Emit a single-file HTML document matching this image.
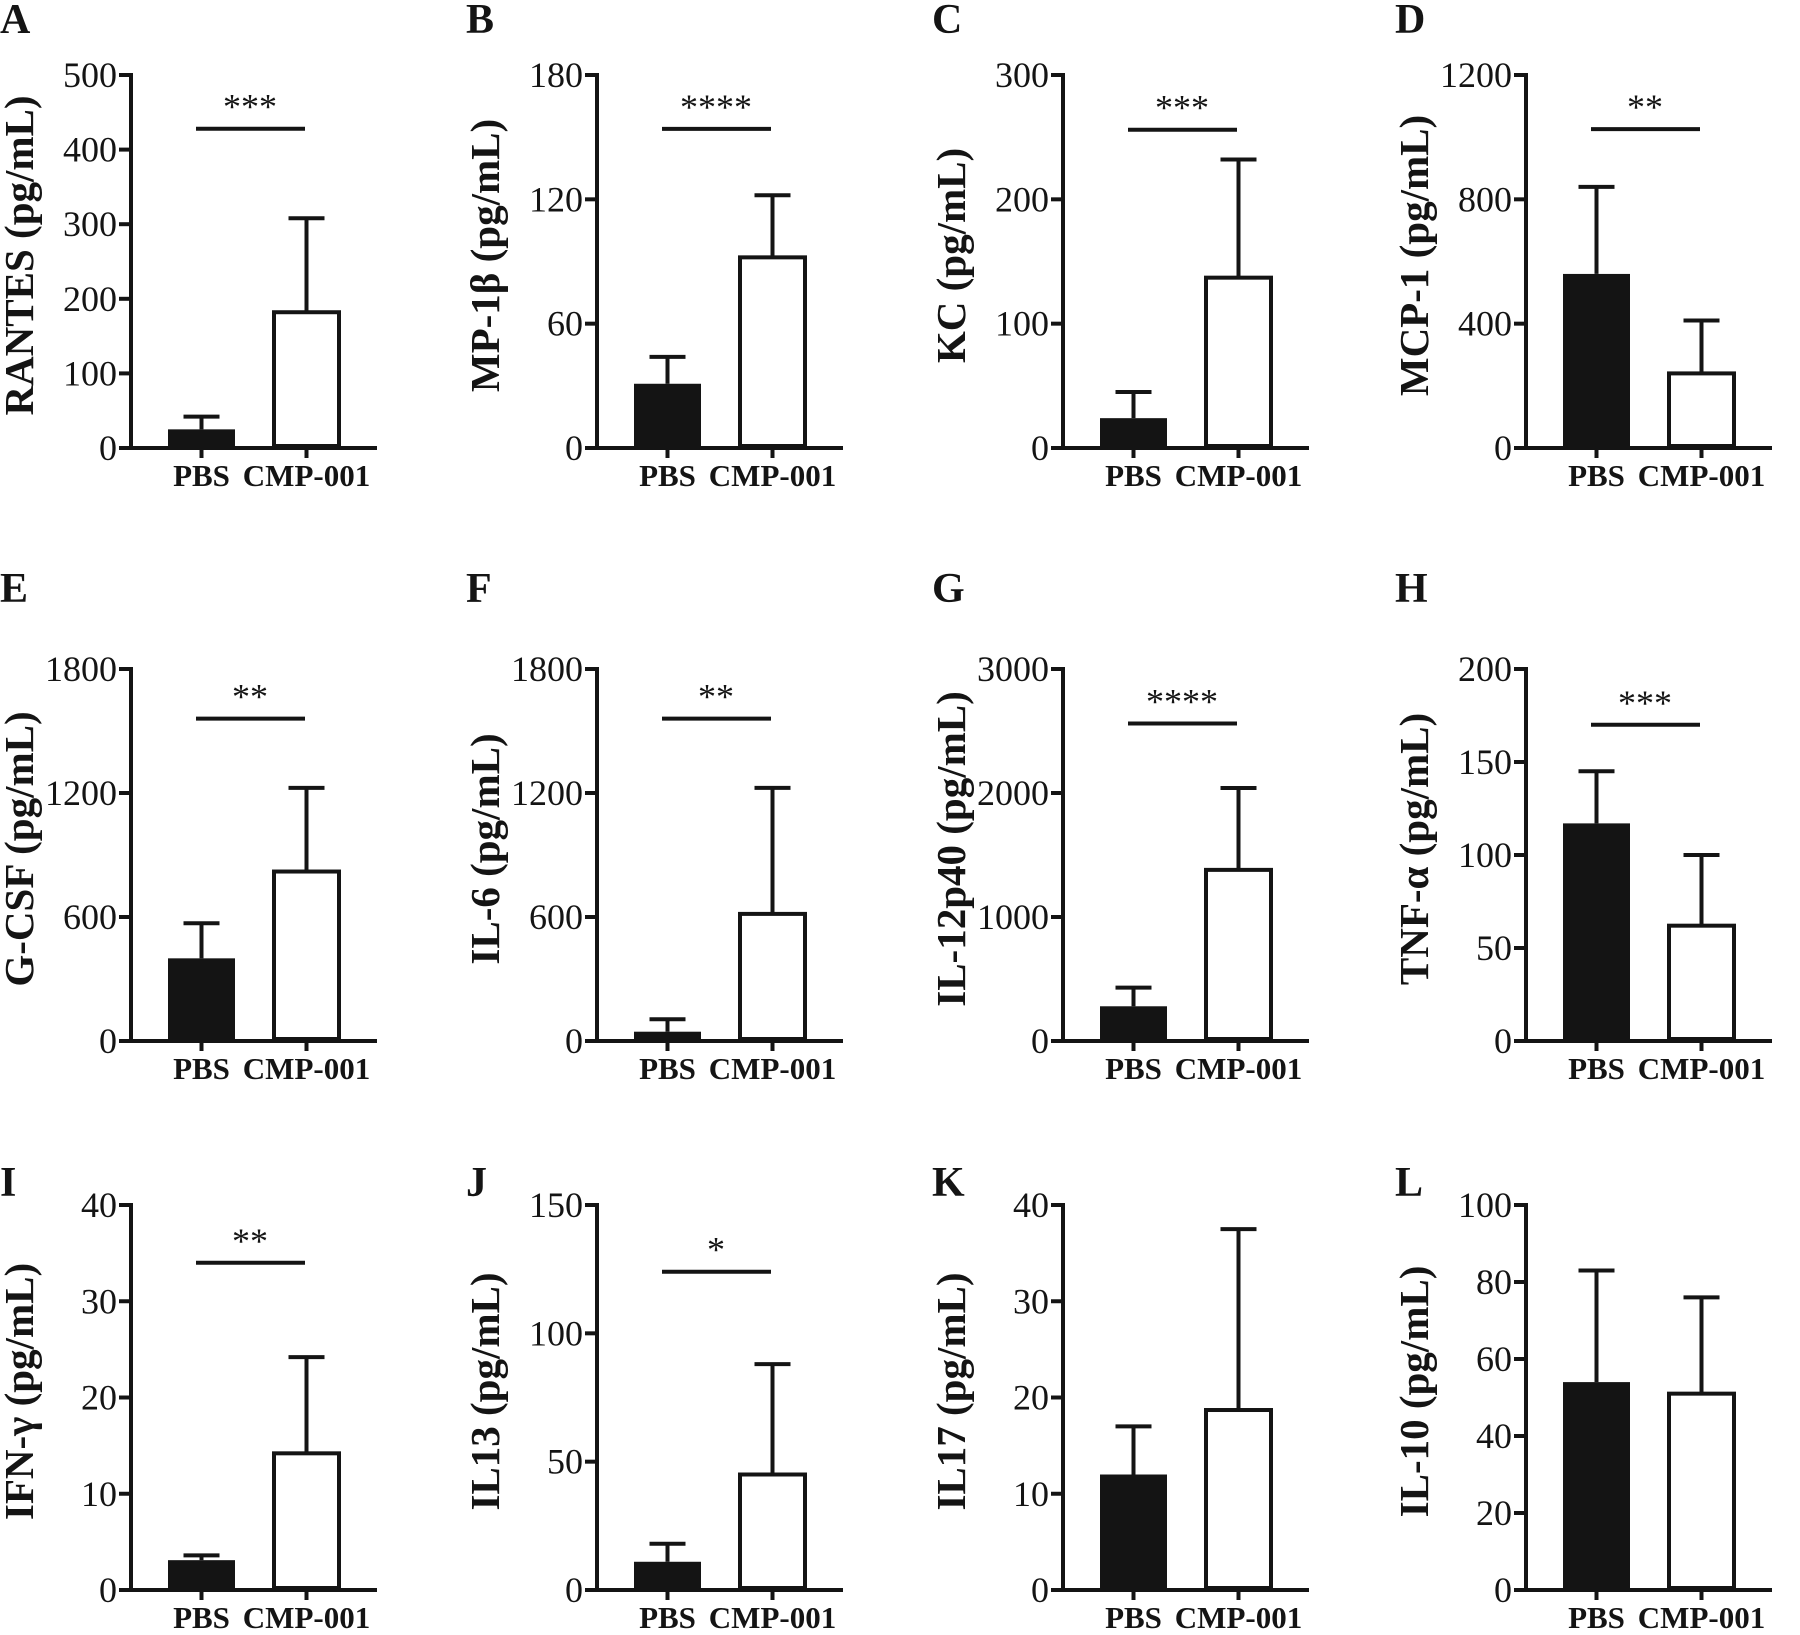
<!DOCTYPE html>
<html><head><meta charset="utf-8"><style>
html,body{margin:0;padding:0;background:#fff;}
svg{display:block;}
text{font-family:"Liberation Serif",serif;fill:#141414;}
</style></head><body>
<svg id="fig" width="1800" height="1635" viewBox="0 0 1800 1635" xmlns="http://www.w3.org/2000/svg"></svg>
<script>
const panelLetters = ["A","B","C","D","E","F","G","H","I","J","K","L"];
const yLabels = ["RANTES (pg/mL)","MP-1β (pg/mL)","KC (pg/mL)","MCP-1 (pg/mL)","G-CSF (pg/mL)","IL-6 (pg/mL)","IL-12p40 (pg/mL)","TNF-α (pg/mL)","IFN-γ (pg/mL)","IL13 (pg/mL)","IL17 (pg/mL)","IL-10 (pg/mL)"];
const yMax = [500,180,300,1200,1800,1800,3000,200,40,150,40,100];
const yTicks = [[0,100,200,300,400,500],[0,60,120,180],[0,100,200,300],[0,400,800,1200],[0,600,1200,1800],[0,600,1200,1800],[0,1000,2000,3000],[0,50,100,150,200],[0,10,20,30,40],[0,50,100,150],[0,10,20,30,40],[0,20,40,60,80,100]];
const categories = ["PBS","CMP-001"];
const pbsMean = [25,31,24,560,400,45,280,117,3.1,11,12,54];
const pbsErr = [42,44,45,840,570,105,430,145,3.6,18,17,83];
const cmpMean = [182,92,137,240,820,615,1380,62,14.2,45,18.7,51];
const cmpErr = [308,122,232,410,1225,1225,2040,100,24.2,88,37.5,76];
const sigStars = ["***","****","***","**","**","**","****","***","**","*","",""];
const sigValue = [428,154,256,1026,1560,1560,2560,170,34,124,0,0];

const svg = document.getElementById('fig');
const NS = "http://www.w3.org/2000/svg";
function mk(tag, attrs, parent){const e=document.createElementNS(NS,tag);for(const k in attrs)e.setAttribute(k,attrs[k]);(parent||svg).appendChild(e);return e;}
const colX=[131,597,1063,1526];
const rowTop=[75,669,1205], rowBot=[448,1041,1590], letterY=[33,602,1196];

for(let i=0;i<12;i++){
  const r=Math.floor(i/4), c=i%4;
  const ax=colX[c], top=rowTop[r], bot=rowBot[r];
  const y=v=>bot-(v/yMax[i])*(bot-top);
  const g=mk('g',{});
  
  
  const L=mk('text',{x:ax-131,y:letterY[r],'font-size':42,'font-weight':'bold'},g);
  L.textContent=panelLetters[i];
  
  
  const pb=[ax+37,ax+104], cb=[ax+141,ax+210];
  const bp=mk('rect',{x:pb[0],y:y(pbsMean[i]),width:pb[1]-pb[0],height:bot-y(pbsMean[i]),fill:'#141414'},g);
  
  
  const pcx=(pb[0]+pb[1])/2, ccx=(cb[0]+cb[1])/2;
  mk('line',{x1:pcx,x2:pcx,y1:y(pbsMean[i]),y2:y(pbsErr[i]),stroke:'#141414','stroke-width':4},g);
  mk('line',{x1:pcx-18,x2:pcx+18,y1:y(pbsErr[i]),y2:y(pbsErr[i]),stroke:'#141414','stroke-width':4},g);
  mk('line',{x1:ccx,x2:ccx,y1:y(cmpMean[i]),y2:y(cmpErr[i]),stroke:'#141414','stroke-width':4},g);
  mk('line',{x1:ccx-18,x2:ccx+18,y1:y(cmpErr[i]),y2:y(cmpErr[i]),stroke:'#141414','stroke-width':4},g);
  const bc=mk('rect',{x:cb[0]+2,y:y(cmpMean[i]),width:cb[1]-cb[0]-4,height:bot-y(cmpMean[i])-2,fill:'#fff',stroke:'#141414','stroke-width':4},g);
  
  
  mk('line',{x1:ax,x2:ax,y1:top-2,y2:bot+2,stroke:'#141414','stroke-width':4},g);
  mk('line',{x1:ax-12,x2:ax+246,y1:bot,y2:bot,stroke:'#141414','stroke-width':4},g);
  yTicks[i].forEach(t=>{
    mk('line',{x1:ax-12,x2:ax,y1:y(t),y2:y(t),stroke:'#141414','stroke-width':4},g);
    const tx=mk('text',{x:ax-14,y:y(t)+12,'font-size':36,'text-anchor':'end'},g);
    tx.textContent=t;
    
    
  });
  [pcx,ccx].forEach((cx,k)=>{
    mk('line',{x1:cx,x2:cx,y1:bot,y2:bot+10,stroke:'#141414','stroke-width':4},g);
    const xl=mk('text',{x:cx,y:bot+38,'font-size':31,'font-weight':'bold','text-anchor':'middle'},g);
    xl.textContent=categories[k];
    
    
  });
  const yl=mk('text',{x:0,y:0,'font-size':41,'font-weight':'bold','text-anchor':'middle',transform:`translate(${ax-98},${(top+bot)/2-6}) rotate(-90)`},g);
  yl.textContent=yLabels[i];
  
  
  if(sigStars[i]){
    const sy=y(sigValue[i]);
    const sl=mk('line',{x1:ax+65,x2:ax+174,y1:sy,y2:sy,stroke:'#141414','stroke-width':4},g);
    
    
    const st=mk('text',{x:ax+119,y:sy-10,'font-size':36,'text-anchor':'middle'},g);
    st.textContent=sigStars[i];
    
    
  }
}
</script>
</body></html>
